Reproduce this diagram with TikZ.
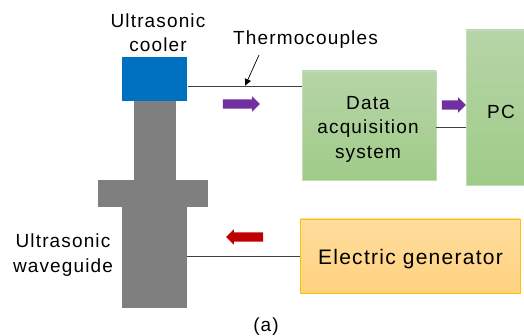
\documentclass[tikz,border=0pt]{standalone}
\usepackage{fontspec}
\setmainfont{Liberation Sans}[LetterSpace=6]
\usetikzlibrary{shapes.arrows, arrows.meta}
\definecolor{coolerblue}{HTML}{0070C0}
\definecolor{guidegray}{HTML}{7F7F7F}
\definecolor{flowpurple}{HTML}{7030A0}
\definecolor{flowred}{HTML}{C00000}
\definecolor{greenTop}{HTML}{B7D5A8}
\definecolor{greenBottom}{HTML}{9FCB88}
\definecolor{greenEdge}{HTML}{C4DDB8}
\definecolor{genTop}{HTML}{FFDD9E}
\definecolor{genBottom}{HTML}{FFD27F}
\definecolor{genEdge}{HTML}{FFC000}
\tikzset{
	label text/.style={inner sep=0pt, align=center, font=\fontsize{19}{24.5}\selectfont},
	solid part/.style={inner sep=0pt, outer sep=0pt},
	green box/.style={inner sep=0pt, outer sep=0pt, top color=greenTop, bottom color=greenBottom, draw=greenEdge, line width=0.6pt},
	flow arrow/.style={single arrow, inner xsep=0pt, inner ysep=4.5pt, outer sep=0pt, minimum width=15pt, single arrow head extend=3pt},
	wire/.style={line width=0.8pt, black!75}
}
\begin{document}
\begin{tikzpicture}[x=1pt, y=-1pt]

		\useasboundingbox (0,0) rectangle (524,336);

		% waveguide
		\node[solid part, fill=guidegray, minimum width=42pt, minimum height=80pt] (guideTop) at (155,141) {};
		\node[solid part, fill=guidegray, minimum width=110pt, minimum height=27pt] (guideFlange) at (153,193.5) {};
		\node[solid part, fill=guidegray, minimum width=65pt, minimum height=102pt] (guideBottom) at (154.5,257) {};
		\node[solid part, fill=coolerblue, minimum width=65pt, minimum height=44pt] (cooler) at (154.5,79) {};

		% boxes
		\node[green box, minimum width=134pt, minimum height=109pt] (daq) at (369,125.5) {};
		\node[green box, minimum width=60pt, minimum height=155pt] (pc) at (496,107.5) {};
		\node[green box, top color=genTop, bottom color=genBottom, draw=genEdge, minimum width=220pt, minimum height=74pt] (generator) at (410,256) {};

		% wires
		\coordinate (coolerOut) at (188,86);
		\coordinate (daqIn) at (daq.west |- coolerOut);
		\coordinate (probe) at (245,86);
		\coordinate (daqOut) at (436,127);
		\coordinate (pcIn) at (pc.west |- daqOut);
		\coordinate (guideIn) at (187,256);
		\draw[wire] (coolerOut) -- (daqIn);
		\draw[wire] (daqOut) -- (pcIn);
		\draw[wire] (guideIn) -- (generator.west);

		% labels
		\node[label text] (coolerLabel) at (158,32.5) {Ultrasonic\\cooler};
		\node[label text] (guideLabel) at (63,255) {Ultrasonic\\waveguide};
		\node[label text] (tcLabel) at (305.5,40) {Thermocouples};
		\node[label text] (figLabel) at (266,327) {(a)};
		\node[label text] (daqLabel) at (368,129) {Data\\acquisition\\system};
		\node[label text] (pcLabel) at (501,112) {PC};
		\node[label text, font=\fontsize{21}{24}\selectfont] (generatorLabel) at (410.5,259.5) {Electric generator};

		\coordinate (tcStart) at (259,55);
		\draw[-{Latex[length=7pt,width=7pt]}, line width=0.7pt] (tcStart) -- (probe);

		% flow arrows
		\node[flow arrow, fill=flowpurple, minimum height=37pt] (flowDaq) at (239,104) {};
		\node[flow arrow, fill=flowpurple, minimum height=24pt] (flowPc) at (451.5,105) {};
		\node[flow arrow, fill=flowred, minimum height=37pt, shape border rotate=180] (flowGuide) at (247,237) {};

	\end{tikzpicture}
\end{document}
